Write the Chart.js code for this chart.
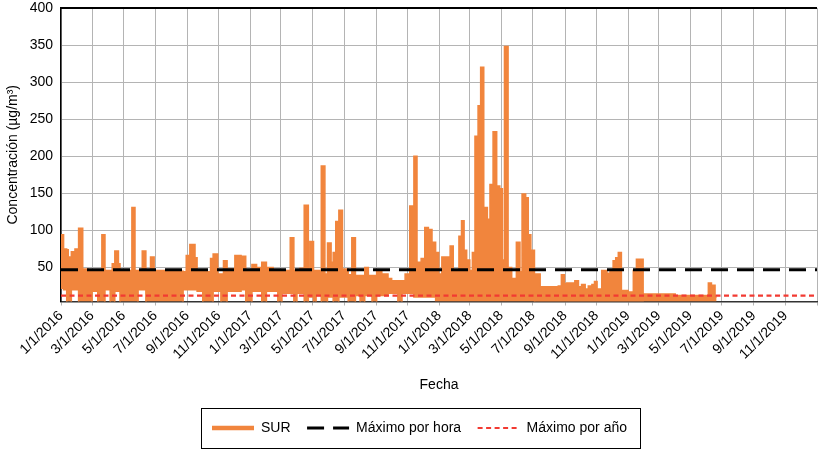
<!DOCTYPE html>
<html>
<head>
<meta charset="utf-8">
<script src="https://cdn.jsdelivr.net/npm/chart.js@4.4.0/dist/chart.umd.min.js"></script>
<style>
  html, body { margin: 0; padding: 0; background: #fff; }
</style>
</head>
<body>
<canvas id="chart" width="818" height="449"></canvas>
<script>
// x values are days counted from 1/1/2016
const tickLabels = ["1/1/2016", "3/1/2016", "5/1/2016", "7/1/2016", "9/1/2016", "11/1/2016",
  "1/1/2017", "3/1/2017", "5/1/2017", "7/1/2017", "9/1/2017", "11/1/2017",
  "1/1/2018", "3/1/2018", "5/1/2018", "7/1/2018", "9/1/2018", "11/1/2018",
  "1/1/2019", "3/1/2019", "5/1/2019", "7/1/2019", "9/1/2019", "11/1/2019", "1/1/2020"];
const yTickValues = [50, 100, 150, 200, 250, 300, 350, 400];

const surDay = [0, 5, 11, 14, 20, 27, 34, 42, 52, 60,
  71, 79, 85, 95, 99, 104, 111, 114, 137, 143,
  149, 157, 164, 173, 180, 211, 236, 242, 249, 259,
  263, 274, 289, 294, 303, 309, 314, 321, 336, 348,
  357, 369, 378, 388, 397, 410, 419, 427, 443, 450,
  456, 462, 470, 478, 481, 488, 493, 503, 510, 515,
  522, 526, 531, 537, 544, 555, 562, 569, 578, 587,
  594, 601, 610, 620, 632, 639, 651, 659, 665, 674,
  682, 688, 696, 703, 710, 717, 724, 730, 736, 752,
  758, 769, 774, 779, 784, 790, 795, 800, 806, 811,
  817, 824, 829, 835, 842, 848, 853, 857, 864, 871,
  880, 887, 891, 898, 903, 908, 915, 926, 961, 967,
  973, 977, 993, 1000, 1006, 1013, 1019, 1026, 1031, 1036,
  1045, 1055, 1061, 1067, 1072, 1077, 1083, 1096, 1106, 1112,
  1125, 1187, 1251, 1257, 1264, 1267];
// upper and lower edge of the SUR band
const surMax = [94, 75, 74, 64, 71, 75, 103, 48, 46, 46,
  46, 94, 46, 46, 55, 72, 55, 46, 131, 46,
  46, 72, 46, 64, 46, 45, 44, 66, 81, 63,
  44, 44, 62, 68, 41, 41, 59, 48, 66, 65,
  45, 54, 50, 57, 50, 45, 46, 46, 90, 46,
  46, 49, 134, 46, 85, 46, 46, 187, 41, 83,
  57, 70, 112, 127, 48, 40, 90, 39, 39, 50,
  39, 39, 46, 41, 35, 32, 32, 32, 41, 133,
  200, 57, 62, 104, 101, 84, 70, 41, 64, 79,
  46, 92, 113, 73, 60, 46, 70, 227, 268, 320,
  131, 115, 162, 233, 160, 156, 60, 348, 50, 35,
  84, 44, 149, 144, 94, 73, 41, 24, 25, 40,
  28, 29, 32, 24, 27, 21, 25, 27, 31, 21,
  46, 42, 46, 59, 63, 70, 19, 17, 46, 61,
  14, 12, 29, 26, 10, 10];
const surMin = [22, 20, 0, 0, 20, 20, 0, 0, 0, 18,
  0, 0, 20, 0, 0, 18, 18, 0, 0, 0,
  20, 20, 0, 0, 0, 0, 20, 20, 20, 20,
  18, 0, 0, 18, 18, 0, 0, 18, 18, 20,
  0, 18, 18, 0, 18, 18, 0, 15, 15, 0,
  15, 15, 0, 10, 10, 0, 12, 0, 0, 10,
  10, 0, 0, 10, 10, 0, 0, 12, 0, 12,
  12, 0, 12, 12, 15, 15, 0, 15, 15, 15,
  10, 10, 10, 10, 10, 10, 5, 5, 5, 5,
  5, 5, 5, 5, 5, 5, 5, 5, 5, 5,
  5, 5, 5, 5, 5, 5, 5, 5, 5, 5,
  5, 5, 5, 5, 5, 5, 3, 3, 3, 3,
  3, 3, 3, 3, 3, 3, 3, 3, 3, 3,
  3, 3, 3, 3, 3, 3, 3, 3, 3, 3,
  2, 2, 2, 2, 2, 2];
const hourlyLimit = 47;
const annualLimit = 12;

const orange = "#F1853D";
const red = "#F23A32";

function dayOffset(label) {
  const [m, d, y] = label.split("/").map(Number);
  return (Date.UTC(y, m - 1, d) - Date.UTC(2016, 0, 1)) / 86400000;
}
const tickDays = tickLabels.map(dayOffset);
const lastDay = tickDays[tickDays.length - 1];

const upper = surDay.map((d, i) => ({ x: d, y: surMax[i] }));
const lower = surDay.map((d, i) => ({ x: d, y: surMin[i] }));

Chart.defaults.font.family = "'Liberation Sans', Arial, sans-serif";
Chart.defaults.font.size = 14;
Chart.defaults.color = "#000";

// box round the legend and dark top edge of the plot
const frame = {
  id: "frame",
  afterLayout(chart) {
    chart.legend.left += 11;
    chart.legend.right += 11;
  },
  afterDraw(chart) {
    const ctx = chart.ctx;
    const boxes = chart.legend.legendHitBoxes;
    const first = boxes[0];
    const last = boxes[boxes.length - 1];
    ctx.save();
    ctx.strokeStyle = "#000";
    ctx.lineWidth = 1;
    ctx.strokeRect(
      Math.round(first.left - 11) + 0.5,
      Math.round(first.top - 13) + 0.5,
      Math.round(last.left + last.width - first.left + 24),
      40
    );
    const a = chart.chartArea;
    ctx.lineWidth = 2;
    ctx.beginPath();
    ctx.moveTo(a.left, a.top);
    ctx.lineTo(a.right, a.top);
    ctx.stroke();
    ctx.restore();
  },
};

new Chart(document.getElementById("chart"), {
  type: "line",
  data: {
    datasets: [
      {
        label: "SUR",
        data: upper,
        borderColor: orange,
        backgroundColor: orange,
        borderWidth: 1.5,
        stepped: true,
        pointRadius: 0,
        fill: "+1",
        order: 2,
      },
      {
        label: "SUR min",
        data: lower,
        borderColor: orange,
        borderWidth: 1.5,
        stepped: true,
        pointRadius: 0,
        fill: false,
        order: 2,
      },
      {
        label: "Máximo por hora",
        data: [{ x: 0, y: hourlyLimit }, { x: lastDay, y: hourlyLimit }],
        borderColor: "#000",
        borderWidth: 3,
        borderDash: [17, 9],
        pointRadius: 0,
        order: 1,
      },
      {
        label: "Máximo por año",
        data: [{ x: 0, y: annualLimit }, { x: lastDay, y: annualLimit }],
        borderColor: red,
        borderWidth: 2.2,
        borderDash: [5, 3.5],
        pointRadius: 0,
        order: 1,
      },
    ],
  },
  options: {
    responsive: false,
    animation: false,
    layout: { padding: { top: 0, right: 1, bottom: 4, left: 0 } },
    scales: {
      x: {
        type: "linear",
        min: 0,
        max: lastDay,
        afterBuildTicks: (s) => {
          s.ticks = tickDays.map((v) => ({ value: v }));
        },
        // rotated labels may hang out to the left of the plot
        afterFit: (s) => {
          s.paddingLeft = 0;
          s.paddingRight = 0;
        },
        ticks: {
          autoSkip: false,
          maxRotation: 45,
          minRotation: 45,
          padding: 2,
          callback: (v, i) => (i === tickLabels.length - 1 ? "" : tickLabels[i]),
        },
        grid: { color: "#b4b4b4", tickLength: 4 },
        border: { color: "#333", width: 1.5 },
        title: { display: true, text: "Fecha", padding: { top: 12, bottom: 11 } },
      },
      y: {
        min: 4,
        max: 400,
        afterBuildTicks: (s) => {
          s.ticks = yTickValues.map((v) => ({ value: v }));
        },
        afterFit: (s) => {
          s.width = 61;
          s.paddingTop = 8;
        },
        ticks: { padding: 8 },
        grid: { color: "#b4b4b4", drawTicks: false },
        border: { color: "#000", width: 1.5 },
        title: {
          display: true,
          text: "Concentración (µg/m³)",
          padding: { top: 5, bottom: 8 },
        },
      },
    },
    plugins: {
      tooltip: { enabled: false },
      legend: {
        position: "bottom",
        labels: {
          usePointStyle: true,
          pointStyleWidth: 42,
          boxHeight: 14,
          padding: 16.5,
          generateLabels: () => [
            { text: "SUR", strokeStyle: orange, fillStyle: orange, lineWidth: 4.5, lineDash: [], pointStyle: "line", hidden: false, datasetIndex: 0 },
            { text: "Máximo por hora", strokeStyle: "#000", fillStyle: "#000", lineWidth: 3, lineDash: [17, 9], pointStyle: "line", hidden: false, datasetIndex: 2 },
            { text: "Máximo por año", strokeStyle: red, fillStyle: red, lineWidth: 2.2, lineDash: [5, 3.5], pointStyle: "line", hidden: false, datasetIndex: 3 },
          ],
        },
      },
    },
  },
  plugins: [frame],
});
</script>
</body>
</html>
